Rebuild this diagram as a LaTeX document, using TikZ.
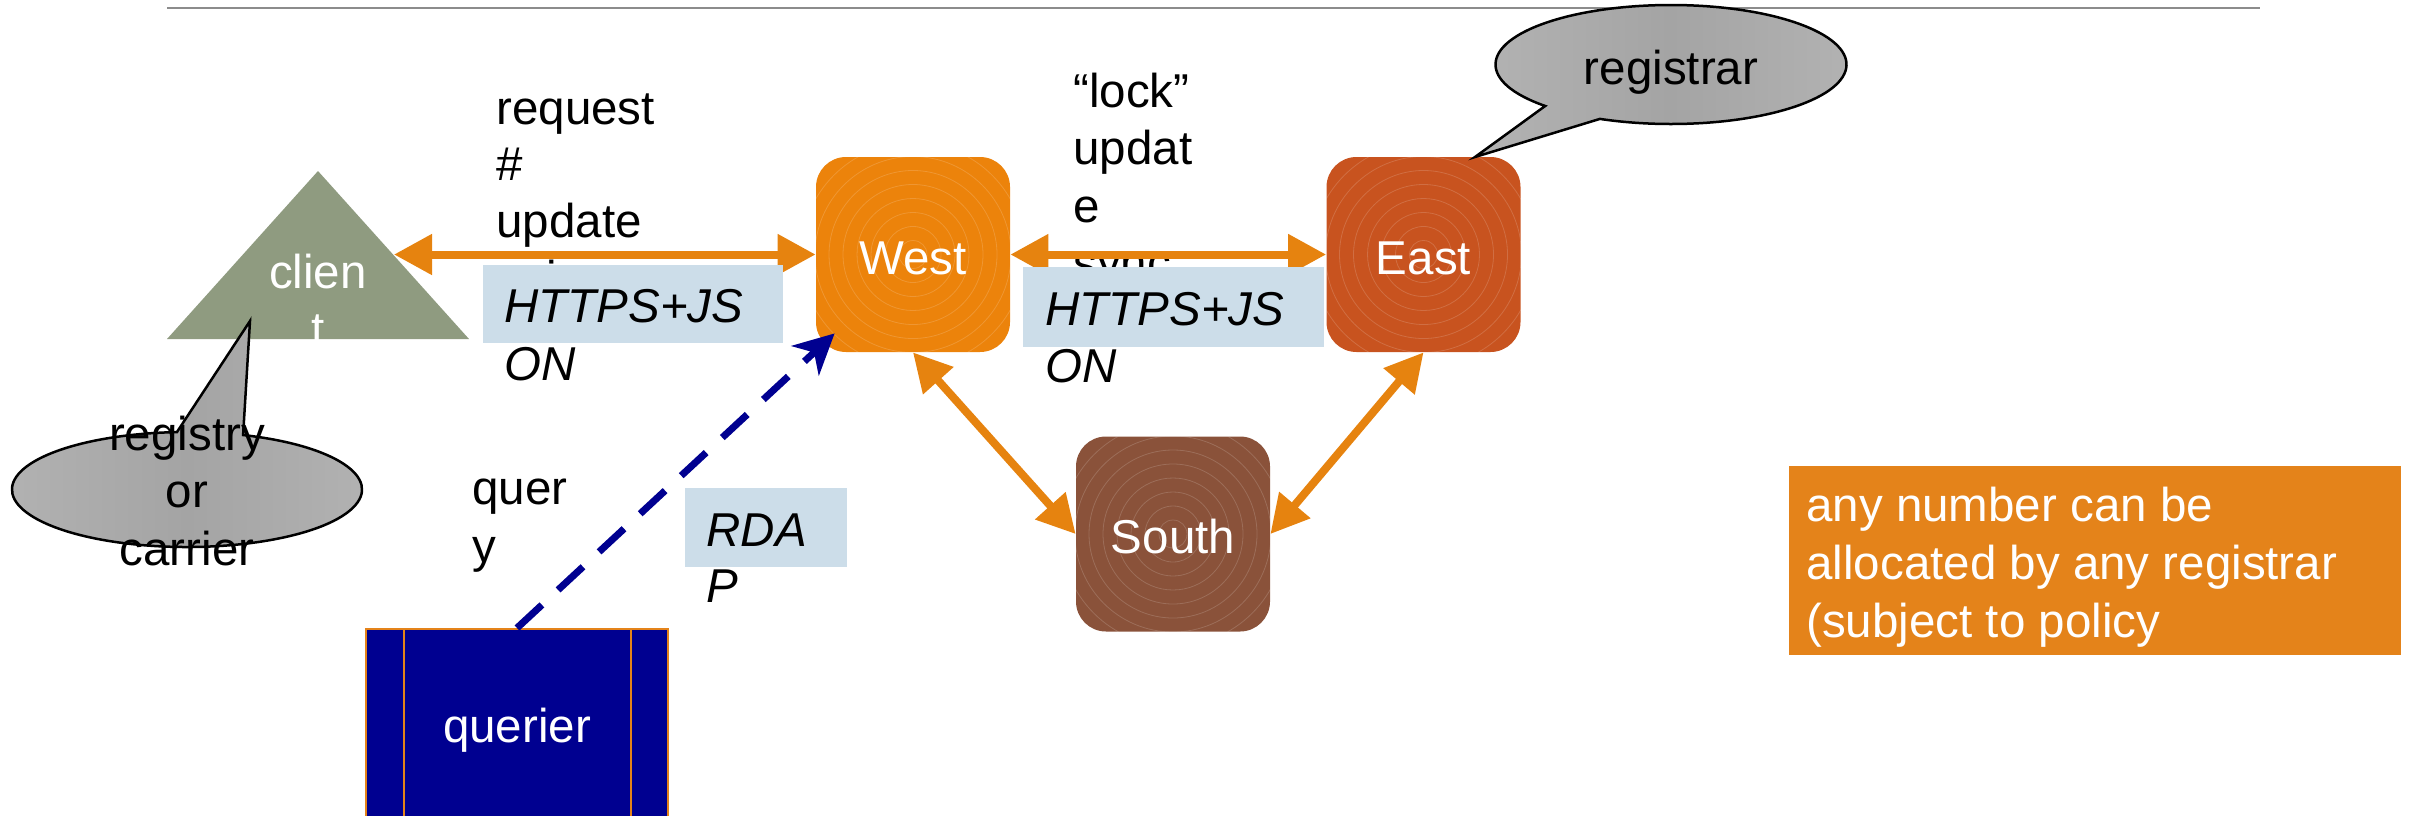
\documentclass[tikz,border=0pt]{standalone}
\usepackage{fontspec}
\setmainfont{Liberation Sans}
\usetikzlibrary{arrows.meta}
\definecolor{arrowC}{HTML}{E6830F}
\definecolor{westC}{HTML}{EC830B}
\definecolor{eastC}{HTML}{C8531F}
\definecolor{southC}{HTML}{8A523A}
\definecolor{clientC}{HTML}{8F9B80}
\definecolor{navyC}{HTML}{000090}
\definecolor{infoC}{HTML}{E4831A}
\definecolor{lblueC}{HTML}{CCDDE9}
\definecolor{calloutC}{HTML}{B3B3B3}
\definecolor{calloutD}{HTML}{A4A4A4}
\definecolor{ruleC}{HTML}{8C8C8C}
\newcommand\dfont{\fontsize{23.75pt}{28.5pt}\selectfont}
\begin{document}
\begin{tikzpicture}[x=0.5pt,y=-0.5pt,font=\dfont,
  lbl/.style={anchor=base west,inner sep=0pt},
  lblc/.style={anchor=base,inner sep=0pt},
  rings/.style={path picture={\foreach \r in {7,14,...,70}{\draw[white,opacity=0.16,line width=0.4pt] (path picture bounding box.center) circle[radius=\r*1pt];}}},
  hub/.style={rounded corners=15pt,minimum width=97pt,minimum height=97.5pt,inner sep=0pt,text=white,text height=19.5pt,text depth=0pt,rings},
  link/.style={draw=arrowC,line width=4pt,{Triangle[length=19pt,width=19.5pt]}-{Triangle[length=19pt,width=19.5pt]}},
  query/.style={draw=navyC,line width=3.5pt,dash pattern=on 17pt off 11pt,-{Stealth[length=20pt,width=20pt,inset=6pt]}},
  tagbox/.style={fill=lblueC,inner sep=0pt},
  callout/.style={draw=black,line width=1.25pt,left color=calloutC,right color=calloutC,middle color=calloutD},
  border/.style={draw=infoC,line width=1pt}]
\useasboundingbox (0,0) rectangle (2419,815);

% top rule
\draw[ruleC,line width=1pt] (167,8) -- (2260,8);

% labels behind arrows and boxes
\node[lbl] (req1) at (496,124) {request};
\node[lbl] (req2) at (496,180) {\#};
\node[lbl] (req3) at (496,237) {update};
\node[lbl] (req4) at (496,294) {using};
\node[lbl] (lock1) at (1073,107) {“lock”};
\node[lbl] (lock2) at (1073,164) {updat};
\node[lbl] (lock3) at (1073,222) {e};
\node[lbl] (lock4) at (1073,279) {sync};
\node[lbl] (q1) at (472,504) {quer};
\node[lbl] (q2) at (472,562) {y};

% client triangle
\fill[clientC] (318,171) -- (469,339) -- (167,339) -- cycle;
\coordinate (clientR) at (394,254.5);
\node[lblc,text=white] (client1) at (318,288) {clien};
\node[lblc,text=white] (client2) at (318,345) {t};

% servers
\node[hub,fill=westC] (West) at (913,254.5) {West};
\node[hub,fill=eastC] (East) at (1423.5,254.5) {East};
\node[hub,fill=southC] (South) at (1173,534) {South};

% links
\draw[link] (clientR) -- (West.west);
\draw[link] (West.east) -- (East.west);
\draw[link] (West.south) -- (South.west);
\draw[link] (East.south) -- (South.east);

% querier
\begin{scope}
\clip (0,0) rectangle (2419,815);
\node[border,fill=navyC,minimum width=151pt,minimum height=96pt,text depth=0pt,inner sep=0pt,text=white] (querier) at (517,725) {querier};
\draw[border] ([xshift=19.5pt]querier.north west) -- ([xshift=19.5pt]querier.south west);
\draw[border] ([xshift=-19pt]querier.north east) -- ([xshift=-19pt]querier.south east);
\end{scope}
\draw[query] (querier.north) -- ([shift={(19,-19)}]West.south west);

% protocol tags
\node[tagbox,minimum width=150pt,minimum height=39pt] (tag1) at (633,304) {};
\node[lbl,font=\dfont\itshape] (tag1a) at (504,322) {HTTPS+JS};
\node[lbl,font=\dfont\itshape] (tag1b) at (504,380) {ON};
\node[tagbox,minimum width=150.5pt,minimum height=40pt] (tag2) at (1173.5,307) {};
\node[lbl,font=\dfont\itshape] (tag2a) at (1045,325) {HTTPS+JS};
\node[lbl,font=\dfont\itshape] (tag2b) at (1045,382) {ON};
\node[tagbox,minimum width=81pt,minimum height=39.5pt] (tag3) at (766,527.5) {};
\node[lbl,font=\dfont\itshape] (tag3a) at (706,546) {RDA};
\node[lbl,font=\dfont\itshape] (tag3b) at (706,602) {P};

% callouts
\path[callout] (250,321) -- ([shift={(187,489.5)}]288.7:175 and 57.5)
  arc[start angle=288.7,end angle=626.7,x radius=175,y radius=57.5] -- cycle;
\node[lblc] (reg1) at (187,450) {registry};
\node[lblc] (reg2) at (187,507) {or};
\node[lblc] (reg3) at (187,565) {carrier};
\path[callout] (1475,157) -- ([shift={(1671,64.5)}]135.8:175.5 and 59.5)
  arc[start angle=135.8,end angle=473.9,x radius=175.5,y radius=59.5] -- cycle;
\node[lblc] (rar) at (1671,84) {registrar};

% note
\node[fill=infoC,minimum width=306pt,minimum height=94.5pt,inner sep=0pt] (info) at (2095,560.5) {};
\node[lbl,text=white] (info1) at (1806,521) {any number can be};
\node[lbl,text=white] (info2) at (1806,579) {allocated by any registrar};
\node[lbl,text=white] (info3) at (1806,637) {(subject to policy};
\end{tikzpicture}
\end{document}
